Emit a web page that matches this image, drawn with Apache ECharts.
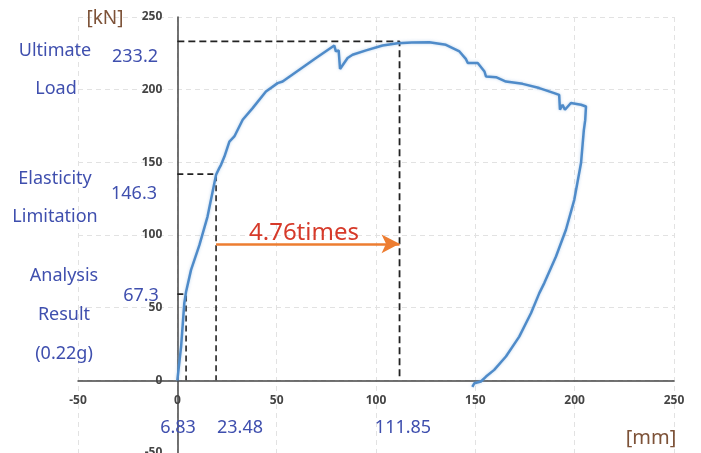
<!DOCTYPE html>
<html>
<head>
<meta charset="utf-8">
<script src="https://cdn.jsdelivr.net/npm/echarts@6/dist/echarts.min.js"></script>
<style>
html,body{margin:0;padding:0;background:#fff;}
#chart{width:701px;height:453px;}
</style>
</head>
<body>
<div id="chart"></div>
<script>
// Load–displacement curve [mm, kN]
const curve = [[0,0],[1.9,23.3],[3.5,53],[4.4,61],[6.9,76],[11.1,93],[15.2,112.7],[19.5,141.4],[21.1,146],[22,148.3],
[23.7,154],[26.2,164.3],[28.7,167.8],[32.9,179.3],[37.9,187.3],[44.6,198.8],[50.5,204.5],[53,205.6],[61.4,213.7],
[69.8,221.8],[79,230.4],[79.8,226.3],[81.2,227],[81.9,214.2],[85.7,221.8],[88.2,224],[95,227],[103.3,230.4],
[110.9,232],[118,232.5],[126.8,232.7],[135.2,230.9],[142,226.3],[145.3,221],[146.2,218.3],[151.2,218.3],
[154.6,212.5],[155.4,209],[160.4,208.6],[165.4,205.6],[173.8,204],[182.2,201.1],[189.7,197.6],[192.2,196.4],
[192.6,186.2],[193.9,189.6],[195.1,186.2],[198.1,190.8],[203.2,189.6],[205.7,188.4],[205.3,179],[204.6,172],
[203.2,149.5],[199.8,124.2],[195.6,103.6],[190.6,85.2],[184.7,66.9],[182.2,60],[178,46.2],[172.1,30.1],
[165.4,16.4],[159.5,7.2],[155.4,2.6],[152.8,-0.8],[149.5,-2],[148.5,-4.5]];
// Reference (dashed) guide lines
const ultimateGuide = [[0,233.2],[111.85,233.2],[111.85,0]];
const elasticGuide = [[0,141.9],[19.5,141.9],[19.5,0]];
const analysisGuide = [[0,59.3],[4.4,59.3],[4.4,0]];
// Ductility arrow
const arrowStart = [19.5,93.9];
const arrowEnd = [111.85,93.9];
// Axis settings
const axisMin = -50, axisMax = 250, axisStep = 50;

const W = 701, H = 453;
const G = {left:78, right:27, top:17, bottom:0};
const gw = W - G.left - G.right, gh = H - G.top - G.bottom;
// offsets that place each axis at the other axis' zero
const xOff = -gh * (0 - axisMin) / (axisMax - axisMin);
const yOff = -gw * (0 - axisMin) / (axisMax - axisMin);

const chart = echarts.init(document.getElementById('chart'), null, {renderer:'canvas'});
const FONT = "'Noto Sans', 'DejaVu Sans', sans-serif";
const BLUE = '#3f4fae';
const BROWN = '#7d5238';
function txt(text, x, y, size, color, align){
  return {type:'text', x:x, y:y, z:100, silent:true,
    style:{text:text, fill:color, font: size+'px '+FONT, textAlign:align||'center', textVerticalAlign:'middle'}};
}
const guideStyle = (w, d)=>({color:'#222', width:w, type:d});
const option = {
  animation:false,
  backgroundColor:'#fff',
  grid:{left:G.left, right:G.right, top:G.top, bottom:G.bottom, containLabel:false, outerBoundsMode:'none'},
  xAxis:{type:'value', min:axisMin, max:axisMax, interval:axisStep, position:'bottom', offset:xOff,
    axisLine:{onZero:false, lineStyle:{color:'#444', width:1.5}},
    axisTick:{show:false},
    axisLabel:{margin:14, color:'#444', fontSize:12, fontWeight:'bold', fontFamily:FONT, showMinLabel:true, showMaxLabel:true},
    splitLine:{show:true, lineStyle:{color:'#e2e2e2', type:[5,4], width:1}}},
  yAxis:{type:'value', min:axisMin, max:axisMax, interval:axisStep, position:'left', offset:yOff,
    axisLine:{show:true, onZero:false, lineStyle:{color:'#444', width:1.5}},
    axisTick:{show:false},
    axisLabel:{margin:15, color:'#444', fontSize:12, fontWeight:'bold', fontFamily:FONT, showMinLabel:true, showMaxLabel:true},
    splitLine:{show:true, lineStyle:{color:'#e2e2e2', type:[5,4], width:1}}},
  series:[
    {type:'line', data:ultimateGuide, showSymbol:false, lineStyle:guideStyle(1.8,[7,4]), z:3, silent:true},
    {type:'line', data:elasticGuide, showSymbol:false, lineStyle:guideStyle(1.6,[6,4]), z:3, silent:true},
    {type:'line', data:analysisGuide, showSymbol:false, lineStyle:guideStyle(1.6,[6,4]), z:3, silent:true},
    {type:'line', data:curve, showSymbol:false, smooth:false, z:4, silent:true,
      lineStyle:{color:'#4f8bc9', width:2.5, shadowColor:'rgba(120,170,220,0.5)', shadowBlur:3},
      markLine:{silent:true, symbol:['none','arrow'], symbolSize:[14,18], label:{show:false},
        lineStyle:{color:'#ed7d31', width:2.5, type:'solid'},
        data:[[{coord:arrowStart},{coord:arrowEnd}]]}}
  ],
  graphic:[
    txt('[kN]', 105, 19, 19, BROWN),
    txt('[mm]', 651, 438, 20, BROWN),
    txt('Ultimate', 55, 51, 18, BLUE),
    txt('Load', 56, 89, 18, BLUE),
    txt('233.2', 135, 57, 18, BLUE),
    txt('Elasticity', 55, 179, 18, BLUE),
    txt('Limitation', 55, 217, 18, BLUE),
    txt('146.3', 134, 194, 18, BLUE),
    txt('Analysis', 64, 276, 18, BLUE),
    txt('Result', 64, 315, 18, BLUE),
    txt('(0.22g)', 64, 354, 18, BLUE),
    txt('67.3', 141, 296, 18, BLUE),
    txt('6.83', 178, 428, 18, BLUE),
    txt('23.48', 240, 428, 18, BLUE),
    txt('111.85', 403, 428, 18, BLUE),
    txt('4.76times', 249, 233, 24, '#d63a2a', 'left')
  ]
};
chart.setOption(option);
</script>
</body>
</html>
